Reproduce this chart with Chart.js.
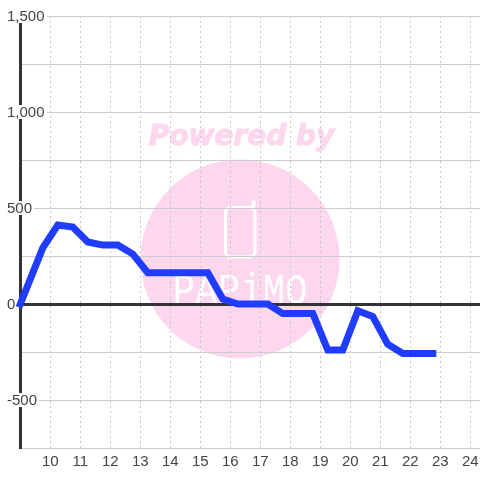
<!DOCTYPE html>
<html><head><meta charset="utf-8">
<style>html,body{margin:0;padding:0;background:#fff}canvas{display:block}</style>
<script src="https://cdn.jsdelivr.net/npm/chart.js@4"></script></head>
<body><canvas id="c" width="480" height="480"></canvas>
<script>
const hours=[9,9.75,10.25,10.75,11.25,11.75,12.25,12.75,13.25,13.75,14.25,14.75,15.25,15.75,16.25,16.75,17.25,17.75,18.25,18.75,19.25,19.75,20.25,20.75,21.25,21.75,22.25,22.75];
const values=[0,292,411,401,323,307,307,260,163,163,163,163,163,26,0,0,0,-50,-50,-50,-240,-240,-35,-65,-210,-258,-258,-258];
const watermarkTitle="Powered by";
const watermarkBrand="PAPiMO";
const watermark={id:'watermark',beforeDraw(ch){
  const c=ch.ctx;c.save();
  c.fillStyle='#fff';c.fillRect(0,0,480,480);
  c.fillStyle='#fcd7ed';c.strokeStyle='#fcd7ed';c.lineWidth=1;
  c.font='italic bold 28px "DejaVu Sans"';c.textAlign='center';c.textBaseline='alphabetic';
  c.fillText(watermarkTitle,241.5,145);
  c.strokeText(watermarkTitle,241.5,145);
  c.beginPath();c.arc(240,259,99.5,0,Math.PI*2);c.fill();
  c.strokeStyle='#fff';c.lineWidth=3;
  c.beginPath();c.roundRect(225.5,207.5,29.5,49.5,5);c.stroke();
  c.lineWidth=4;c.lineCap='round';
  c.beginPath();c.moveTo(253.5,207);c.lineTo(253.5,202);c.stroke();
  c.fillStyle='#fff';c.font='44px "Liberation Mono"';c.textAlign='center';
  [...watermarkBrand].forEach((s,i)=>{
    c.save();c.translate(240+(i-2.5)*22.5,304);c.scale(0.84,1);c.fillText(s,0,0);c.restore();
  });
  c.restore();
}};
new Chart(document.getElementById('c'),{
  type:'line',
  data:{datasets:[{data:hours.map((h,i)=>({x:h,y:values[i]})),borderColor:'#1f3cff',borderWidth:7,pointRadius:0,tension:0,fill:false,clip:false,borderCapStyle:'square',borderJoinStyle:'miter'}]},
  options:{responsive:false,animation:false,
    layout:{padding:{left:0,right:0,top:16,bottom:0}},
    plugins:{legend:{display:false},tooltip:{enabled:false}},
    scales:{
      x:{type:'linear',min:8.99,max:8.99+460/30,
        afterFit(s){s.height=32;s.paddingLeft=0;s.paddingRight=0},
        border:{color:'#ccc',width:1,dash:[2,3]},
        grid:{color:'#c8c8c8',lineWidth:1,drawTicks:false},
        ticks:{stepSize:1,includeBounds:false,autoSkip:false,maxRotation:0,padding:5,color:'#444',font:{family:'"Liberation Sans"',size:15},callback:v=>v<10?'':String(v)}},
      y:{min:-750,max:1500,
        afterFit(s){s.width=20;s.paddingTop=0;s.paddingBottom=0},
        border:{color:'#333',width:3},
        grid:{color:c=>c.tick.value===0?'#333':'#ccc',lineWidth:c=>c.tick.value===0?3:1,drawTicks:false},
        ticks:{stepSize:250,autoSkip:false,mirror:true,crossAlign:'near',padding:-13,color:'#444',font:{family:'"Liberation Sans"',size:15,lineHeight:'2px'},
          showLabelBackdrop:c=>c.tick.value%500===0&&c.tick.value!==0,backdropColor:'#fff',backdropPadding:{top:4,bottom:6,left:2,right:2},
          callback:v=>v%500===0?['',v.toLocaleString('en-US')]:''}}
    }},
  plugins:[watermark]
});
</script></body></html>
